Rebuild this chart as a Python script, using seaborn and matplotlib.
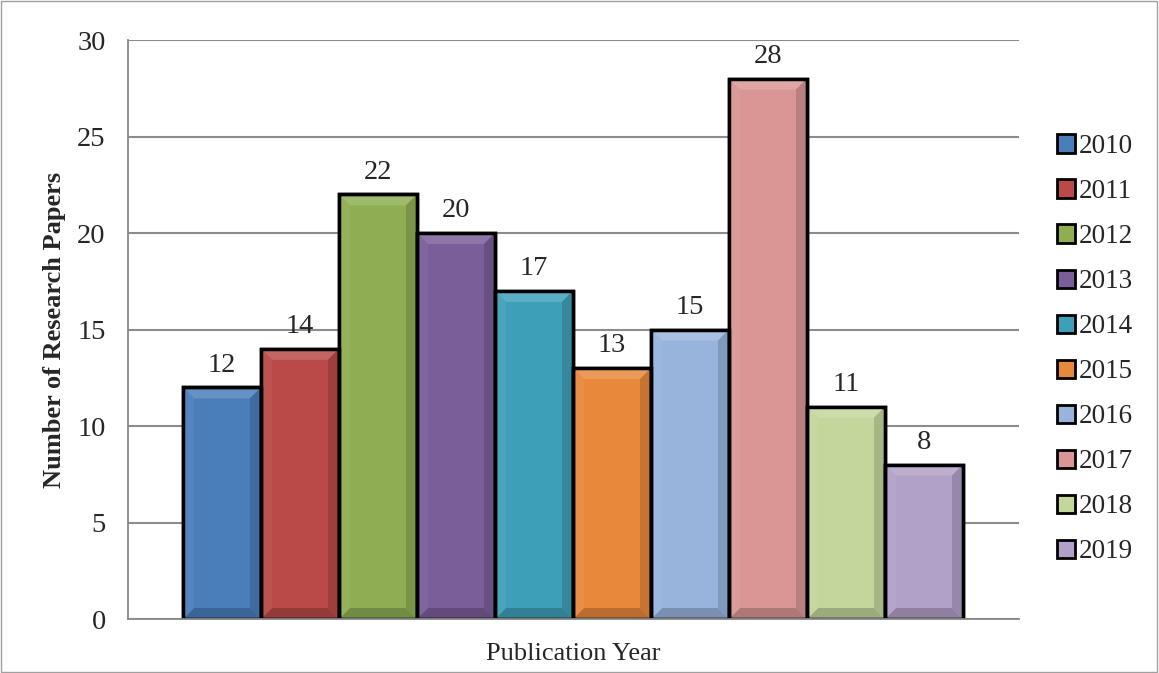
import numpy as np
import pandas as pd
import seaborn as sns
import matplotlib.pyplot as plt
import matplotlib.colors as mcolors
from matplotlib.patches import Polygon, Rectangle

# data
years = ["2010", "2011", "2012", "2013", "2014", "2015", "2016", "2017", "2018", "2019"]
papers = [12, 14, 22, 20, 17, 13, 15, 28, 11, 8]
bar_colors = ["#4A7EBB", "#B94A48", "#8FAE52", "#7A5E99", "#3EA0B8",
              "#E8883A", "#98B4DC", "#D99694", "#C3D69B", "#B1A0C8"]

df = pd.DataFrame({"year": years, "count": papers})

sns.set_style("white")
plt.rcParams["font.family"] = ["Liberation Serif", "DejaVu Serif"]

fig = plt.figure(figsize=(11.59, 6.73), dpi=100)
ax = fig.add_axes([0.1104, 0.0802, 0.7688, 0.8603])

sns.barplot(data=df, x="year", y="count", hue="year", palette=bar_colors,
            width=1.0, dodge=False, edgecolor="black", linewidth=2.5,
            legend=True, ax=ax, saturation=1)

ax.set_ylim(0, 30)
ax.set_yticks(range(0, 31, 5))
ax.set_xlim(-1.205, 10.218)
ax.set_xticks([-1.205, 10.218])
ax.set_xticklabels(["", ""])
ax.tick_params(axis="both", direction="out", length=7, width=1.2, color="#888888",
               labelsize=20.5)
ax.tick_params(axis="y", pad=9)
ax.yaxis.grid(True, color="#8c8c8c", linewidth=1.5)
ax.set_axisbelow(True)
for s in ["top", "right"]:
    ax.spines[s].set_visible(False)
for s in ["left", "bottom"]:
    ax.spines[s].set_color("#888888")
    ax.spines[s].set_linewidth(1.3)

ax.set_xlabel("Publication Year", fontsize=19, labelpad=7)
ax.set_ylabel("Number of Research Papers", fontsize=19, fontweight="bold", labelpad=8)

for c in ax.containers:
    ax.bar_label(c, padding=7, fontsize=20.5)

# bevel look like the office chart
inv = ax.transData.inverted()
px = 9
for p in list(ax.patches):
    x0, y0 = p.get_x(), p.get_y()
    w, h = p.get_width(), p.get_height()
    if not np.isfinite(h) or h == 0:
        continue
    base = np.array(mcolors.to_rgb(p.get_facecolor()))
    (dx0, dy0) = ax.transData.transform((x0, y0))
    (dx1, dy1) = ax.transData.transform((x0 + w, y0 + h))
    dx0 += 2; dx1 -= 2; dy0 += 2; dy1 -= 2
    corners = {
        "top": [(dx0, dy1), (dx1, dy1), (dx1 - px, dy1 - px), (dx0 + px, dy1 - px)],
        "bottom": [(dx0, dy0), (dx1, dy0), (dx1 - px, dy0 + px), (dx0 + px, dy0 + px)],
        "left": [(dx0, dy0), (dx0, dy1), (dx0 + px, dy1 - px), (dx0 + px, dy0 + px)],
        "right": [(dx1, dy0), (dx1, dy1), (dx1 - px, dy1 - px), (dx1 - px, dy0 + px)],
    }
    shade = {"top": base + (1 - base) * 0.15, "left": base + (1 - base) * 0.05,
             "right": base * 0.85, "bottom": base * 0.8}
    for k, pts in corners.items():
        dpts = inv.transform(pts)
        ax.add_patch(Polygon(dpts, closed=True, facecolor=np.clip(shade[k], 0, 1),
                             edgecolor="none", zorder=p.get_zorder() + 0.1))
    # redraw outline on top
    ax.add_patch(Rectangle((x0, y0), w, h, fill=False, edgecolor="black",
                           linewidth=2.5, zorder=p.get_zorder() + 0.2))

handles, labels = ax.get_legend_handles_labels()
for hd in handles:
    hd.set_edgecolor("black")
    hd.set_linewidth(2)
ax.legend(handles, labels, loc="center left", bbox_to_anchor=(1.0426, 0.466),
          frameon=False, fontsize=19.5, handlelength=0.66, handleheight=0.66,
          handletextpad=0.15, labelspacing=0.74, borderaxespad=0, borderpad=0)

fig.add_artist(Rectangle((0.0005, 0.001), 0.998, 0.998, transform=fig.transFigure,
                         fill=False, edgecolor="#a0a0a0", linewidth=1))

fig.savefig("out.png", dpi=100)
